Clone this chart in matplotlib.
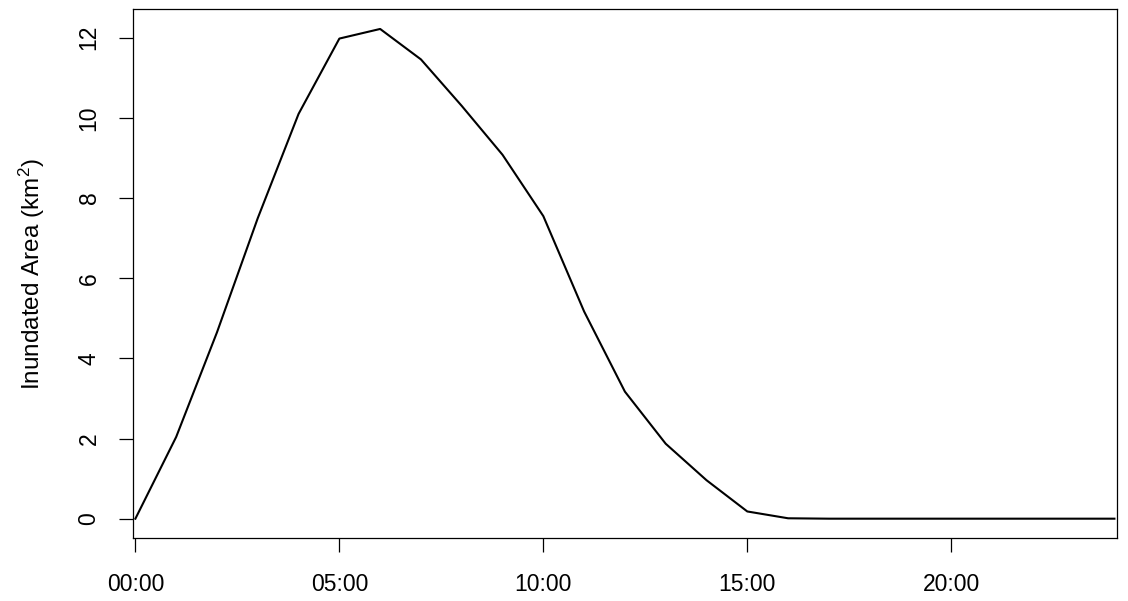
import matplotlib
matplotlib.use('Agg')
import matplotlib.pyplot as plt
from matplotlib.ticker import FuncFormatter

plt.rcParams['font.family'] = ['Liberation Sans', 'DejaVu Sans']
plt.rcParams['mathtext.fontset'] = 'custom'
plt.rcParams['mathtext.rm'] = 'Liberation Sans'
plt.rcParams['mathtext.default'] = 'regular'

# hourly inundated area over one day
hours = list(range(25))
area_km2 = [0.0, 2.04, 4.65, 7.5, 10.1, 11.98, 12.22, 11.46, 10.3, 9.08,
            7.55, 5.17, 3.17, 1.87, 0.96, 0.18, 0.01, 0.0, 0.0, 0.0,
            0.0, 0.0, 0.0, 0.0, 0.0]
x_ticks = [0, 5, 10, 15, 20]
y_ticks = [0, 2, 4, 6, 8, 10, 12]

fig = plt.figure(figsize=(11.28, 6.01), dpi=100)
ax = fig.add_axes([0.1175, 0.1043, 0.873, 0.8802])

ax.plot(hours, area_km2, color='black', linewidth=1.5)

ax.set_xlim(-0.07, 24.07)
ax.set_ylim(-0.49, 12.71)
ax.set_xticks(x_ticks)
ax.set_yticks(y_ticks)
ax.xaxis.set_major_formatter(FuncFormatter(lambda v, p: '%02d:00' % int(v)))

for s in ax.spines.values():
    s.set_linewidth(0.9)
ax.tick_params(axis='both', direction='out', length=10, width=0.9, labelsize=16.5)
ax.tick_params(axis='x', pad=15)
ax.tick_params(axis='y', pad=13)
for lab in ax.get_yticklabels():
    lab.set_rotation(90)
    lab.set_va('center')

ax.set_ylabel('Inundated Area (km$^2$)', fontsize=17.5, labelpad=22)

fig.savefig('out.png', dpi=100)
